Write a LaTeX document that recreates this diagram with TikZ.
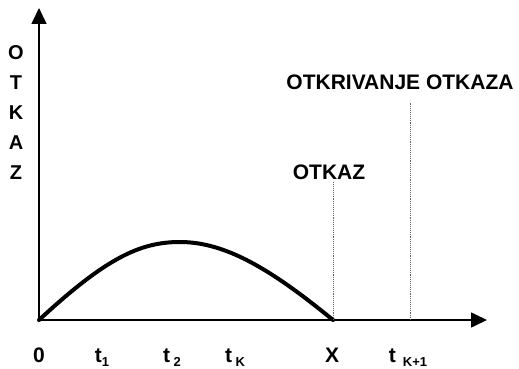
\documentclass[tikz,border=0pt]{standalone}
\usepackage{fontspec}
\setmainfont{Liberation Sans}
\usetikzlibrary{arrows.meta,positioning}
\tikzset{
  axis/.style={-{Triangle[length=16pt,width=15pt]}, line width=1.6pt},
  hump/.style={line width=4pt, line cap=round},
  mark line/.style={densely dotted, line width=0.9pt, draw=black!60},
  lbl/.style={font=\fontsize{21}{24}\selectfont\bfseries, inner sep=0pt},
  tick lbl/.style={font=\fontsize{21}{24}\selectfont\bfseries, inner sep=0pt, anchor=base},
}
\newcommand{\sbs}[1]{\raisebox{-0.4ex}{\fontsize{13}{15}\selectfont #1}}

\begin{document}
\begin{tikzpicture}[x=1pt,y=-1pt]
\useasboundingbox (0,0) rectangle (519,369);

% ================= axes =================
\coordinate (O) at (39,320);
\coordinate (ytop) at (39,8);
\coordinate (xend) at (487,320);
\coordinate (X) at (333,320);
\coordinate (tk1) at (410,320);
\draw[axis] (O) -- (ytop);
\draw[axis] (O) -- (xend);

% vertical axis label, one letter per line
\node[lbl, font=\fontsize{20}{22}\selectfont\bfseries, align=center] (ylab) at (16,113)
  {O\\[8pt]T\\[8pt]K\\[8pt]A\\[8pt]Z};

% ================= curve =================
\coordinate (peak) at (180,242);
\draw[hump] (O) .. controls (106,258) and (140,242) .. (peak)
                .. controls (226,242) and (272,270) .. (X);

% ================= marker lines =================
\node[lbl] (otkaz) at (329,172) {OTKAZ};
\node[lbl] (otkr) at (400,82) {OTKRIVANJE OTKAZA};
\coordinate (otkazTop) at (333,182);
\coordinate (otkrTop) at (410,103);
\draw[mark line] (X) -- (otkazTop);
\draw[mark line] (tk1) -- (otkrTop);

% ================= time axis labels =================
\node[tick lbl] (l0) at (39,362) {0};
\node[tick lbl] (l1) at (102,362) {t\sbs{1}};
\node[tick lbl] (l2) at (172,362) {t\,\sbs{2}};
\node[tick lbl] (lk) at (235,362) {t\,\sbs{K}};
\node[tick lbl] (lx) at (332,362) {X};
\node[tick lbl] (lk1) at (408,362) {t\,\,\sbs{K+1}};

\end{tikzpicture}
\end{document}
